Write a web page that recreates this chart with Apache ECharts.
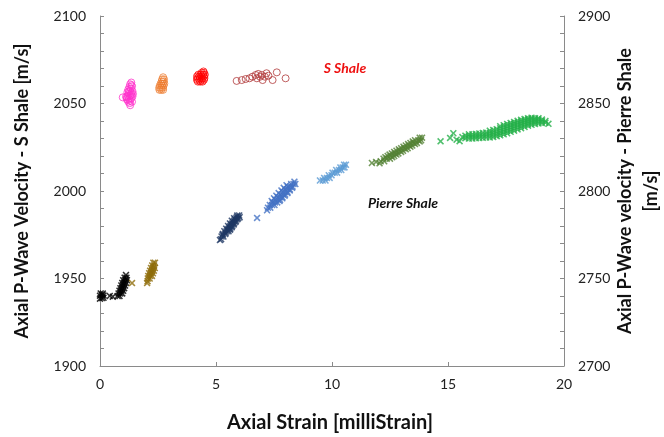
<!DOCTYPE html>
<html><head><meta charset="utf-8">
<script src="https://cdn.jsdelivr.net/npm/echarts@6/dist/echarts.min.js"></script>
<style>html,body{margin:0;padding:0;background:#fff}#c{width:664px;height:437px}</style>
</head><body><div id="c"></div><script>
// ---- Axis ranges / ticks ----
const xTicks = [0, 5, 10, 15, 20];
const leftTicks = [1900, 1950, 2000, 2050, 2100];
const rightTicks = [2700, 2750, 2800, 2850, 2900];

// ---- S Shale (left axis), [strain, velocity] ----
const sShaleMagenta = [[0.98,2053.5],[1.30,2049.0],[1.22,2051.0],[1.30,2051.5],[1.38,2051.0],[1.15,2052.5],[1.26,2052.8],[1.35,2053.0],[1.12,2054.0],[1.20,2054.2],[1.30,2054.5],[1.40,2054.0],[1.25,2055.5],[1.35,2056.0],[1.18,2056.5],[1.30,2057.2],[1.40,2057.0],[1.22,2058.0],[1.33,2058.5],[1.27,2059.5],[1.38,2059.8],[1.30,2061.0],[1.35,2062.0],[1.42,2055.5],[1.15,2053.5],[1.28,2050.2],[1.36,2060.5],[1.24,2056.8],[1.34,2055.0],[1.20,2052.0]];
const sShaleOrange = [[2.56,2057.8],[2.64,2057.8],[2.72,2057.8],[2.55,2059.0],[2.63,2059.0],[2.71,2059.0],[2.58,2060.2],[2.66,2060.2],[2.74,2060.2],[2.62,2061.4],[2.70,2061.4],[2.77,2061.4],[2.66,2062.6],[2.74,2062.6],[2.68,2063.8],[2.76,2063.8],[2.72,2065.0]];
const sShaleRed = [[4.22,2062.5],[4.32,2062.5],[4.42,2062.5],[4.18,2063.5],[4.28,2063.5],[4.38,2063.5],[4.48,2063.5],[4.20,2064.5],[4.30,2064.5],[4.40,2064.5],[4.50,2064.5],[4.18,2065.5],[4.28,2065.5],[4.38,2065.5],[4.48,2065.5],[4.24,2066.5],[4.34,2066.5],[4.44,2066.5],[4.52,2066.5],[4.38,2067.5],[4.48,2067.5],[4.46,2068.3]];
const sShaleDarkRed = [[5.89,2062.9],[6.11,2063.4],[6.28,2064.0],[6.44,2064.4],[6.57,2065.3],[6.71,2066.3],[6.82,2066.9],[6.97,2066.3],[7.01,2063.4],[7.11,2065.3],[7.26,2065.9],[7.44,2063.4],[7.62,2067.8],[8.00,2064.4],[6.76,2064.4],[6.90,2065.3],[7.18,2067.3]];

// ---- Pierre Shale (right axis), [strain, velocity] ----
const pShaleBlack = [[0.00,2738.5],[0.08,2738.8],[0.15,2739.0],[0.00,2740.2],[0.08,2740.5],[0.15,2740.3],[0.03,2741.5],[0.12,2741.4],[0.42,2740.0],[0.55,2739.6],
  [0.76,2740.0],[0.84,2740.0],[0.80,2741.5],[0.88,2741.5],[0.96,2741.5],[0.84,2743.0],[0.92,2743.0],[1.00,2743.0],
  [0.88,2744.5],[0.96,2744.5],[1.04,2744.5],[0.92,2746.0],[1.00,2746.0],[1.08,2746.0],[0.96,2747.5],[1.04,2747.5],[1.12,2747.5],
  [1.00,2749.0],[1.08,2749.0],[1.16,2749.0],[1.06,2750.5],[1.14,2750.5],[1.12,2752.0]];
const pShaleBrown = [[1.38,2747.4],[2.03,2747.4],[2.05,2748.5],[2.06,2750.0],[2.14,2750.0],[2.08,2751.5],[2.16,2751.5],[2.24,2751.5],
  [2.12,2753.0],[2.20,2753.0],[2.28,2753.0],[2.16,2754.5],[2.24,2754.5],[2.32,2754.5],[2.20,2756.0],[2.28,2756.0],[2.36,2756.0],
  [2.25,2757.5],[2.33,2757.5],[2.30,2759.0],[2.37,2759.0]];
const pShaleNavy = [[5.17,2772.0],[5.22,2772.5],[5.24,2774.0],[5.32,2774.0],[5.30,2775.5],[5.40,2775.5],[5.36,2777.0],[5.46,2777.0],[5.54,2777.0],
  [5.44,2778.5],[5.54,2778.5],[5.62,2778.5],[5.52,2780.0],[5.62,2780.0],[5.70,2780.0],[5.60,2781.5],[5.70,2781.5],[5.78,2781.5],
  [5.68,2783.0],[5.78,2783.0],[5.86,2783.0],[5.78,2784.5],[5.88,2784.5],[5.96,2784.5],[5.92,2786.0],[6.00,2786.0],
  [5.28,2775.0],[5.42,2776.2],[5.50,2777.8],[5.58,2779.3],[5.66,2780.8],[5.74,2782.3],[5.82,2783.8],[5.90,2785.3],
  [5.60,2777.8],[5.68,2779.3],[5.76,2780.8],[5.84,2782.3],[5.92,2783.8],[6.02,2785.0]];
const pShaleBlue = [[6.77,2784.6],[7.20,2789.0],[7.24,2790.5],[7.34,2790.5],[7.32,2792.0],[7.42,2792.0],[7.52,2792.0],[7.44,2793.5],[7.54,2793.5],[7.64,2793.5],
  [7.56,2795.0],[7.66,2795.0],[7.76,2795.0],[7.66,2796.5],[7.76,2796.5],[7.86,2796.5],[7.78,2798.0],[7.88,2798.0],[7.98,2798.0],
  [7.88,2799.5],[7.98,2799.5],[8.08,2799.5],[7.98,2801.0],[8.08,2801.0],[8.18,2801.0],[8.10,2802.5],[8.20,2802.5],[8.30,2802.5],
  [8.24,2804.0],[8.34,2804.0],[8.42,2804.0],[8.38,2805.3],
  [7.50,2795.8],[7.60,2797.3],[7.70,2798.8],[7.82,2800.3],[7.92,2801.8],[8.04,2803.3],[7.86,2795.8],[7.96,2797.3],[8.08,2798.8],[8.18,2800.3],[8.28,2801.8],[7.40,2794.3],[7.74,2794.3]];
const pShaleLightBlue = [[9.48,2806.0],[9.60,2806.0],[9.72,2806.0],[9.66,2807.5],[9.78,2807.5],[9.90,2807.5],[9.86,2809.0],[9.98,2809.0],
  [10.02,2810.5],[10.12,2810.5],[10.22,2810.5],[10.18,2812.0],[10.30,2812.0],[10.40,2812.0],[10.36,2813.5],[10.46,2813.5],[10.54,2813.5],[10.52,2815.0],[10.60,2815.0]];
const pShaleOlive = [[11.72,2816.0],[11.90,2816.6],[12.05,2815.8],[12.10,2817.0],[12.25,2817.0],[12.22,2818.5],[12.36,2818.5],[12.50,2818.5],
  [12.40,2820.0],[12.54,2820.0],[12.68,2820.0],[12.58,2821.5],[12.72,2821.5],[12.86,2821.5],[12.78,2823.0],[12.92,2823.0],[13.06,2823.0],
  [12.98,2824.5],[13.12,2824.5],[13.26,2824.5],[13.18,2826.0],[13.32,2826.0],[13.46,2826.0],[13.38,2827.5],[13.52,2827.5],[13.66,2827.5],
  [13.58,2829.0],[13.72,2829.0],[13.84,2829.0],[13.78,2830.5],[13.88,2830.5],
  [12.30,2819.3],[12.60,2819.3],[12.48,2820.8],[12.78,2820.8],[12.68,2822.3],[12.98,2822.3],[12.88,2823.8],[13.18,2823.8],
  [13.08,2825.3],[13.38,2825.3],[13.28,2826.8],[13.58,2826.8],[13.48,2828.3],[13.78,2828.3]];
const pShaleGreen = [[14.68,2828.4],[15.09,2830.3],[15.23,2833.0],[15.37,2829.3],[15.50,2828.5],[15.62,2830.8],[19.33,2838.4],
  [15.75,2830.2],[15.75,2831.6],[15.9,2830.0],[15.9,2831.3],[15.9,2832.4],[16.05,2830.0],[16.05,2831.2],[16.05,2832.4],
  [16.2,2830.2],[16.2,2831.4],[16.2,2832.6],[16.35,2830.3],[16.35,2831.6],[16.35,2832.9],[16.5,2830.4],[16.5,2831.8],[16.5,2833.2],
  [16.65,2830.6],[16.65,2832.0],[16.65,2833.4],[16.8,2830.6],[16.8,2831.9],[16.8,2833.2],[16.8,2834.5],
  [16.95,2830.9],[16.95,2832.2],[16.95,2833.5],[16.95,2834.9],[17.1,2831.3],[17.1,2832.6],[17.1,2833.9],[17.1,2835.3],
  [17.25,2831.8],[17.25,2833.1],[17.25,2834.4],[17.25,2835.8],[17.25,2837.0],[17.4,2832.4],[17.4,2833.7],[17.4,2835.0],[17.4,2836.3],[17.4,2837.6],
  [17.55,2833.0],[17.55,2834.4],[17.55,2835.8],[17.55,2837.1],[17.55,2838.3],[17.7,2833.8],[17.7,2835.1],[17.7,2836.4],[17.7,2837.7],[17.7,2838.9],
  [17.85,2834.5],[17.85,2835.8],[17.85,2837.1],[17.85,2838.4],[17.85,2839.5],[18.0,2835.2],[18.0,2836.5],[18.0,2837.8],[18.0,2839.0],[18.0,2840.1],
  [18.15,2835.9],[18.15,2837.2],[18.15,2838.5],[18.15,2839.7],[18.15,2840.7],[18.3,2836.6],[18.3,2837.9],[18.3,2839.1],[18.3,2840.2],[18.3,2841.2],
  [18.45,2837.3],[18.45,2838.5],[18.45,2839.7],[18.45,2840.8],[18.45,2841.6],[18.6,2837.8],[18.6,2839.0],[18.6,2840.1],[18.6,2841.2],[18.6,2841.9],
  [18.75,2838.3],[18.75,2839.5],[18.75,2840.6],[18.75,2841.6],[18.9,2838.6],[18.9,2839.8],[18.9,2840.8],[18.9,2841.6],
  [19.05,2838.8],[19.05,2839.9],[19.05,2840.8],[19.2,2839.0],[19.2,2840.0]];

// ---- Texts ----
const xTitle = 'Axial Strain [milliStrain]';
const leftTitle = 'Axial P-Wave Velocity - S Shale [m/s]';
const rightTitle = 'Axial P-Wave velocity - Pierre Shale\n[m/s]';
const sLabel = 'S Shale';
const pLabel = 'Pierre Shale';

const FONT = 'Lato, "Open Sans", sans-serif';
const GRAY = '#8a8a8a';
const XSYM = 'path://M0,1.6L1.6,0L5,3.4L8.4,0L10,1.6L6.6,5L10,8.4L8.4,10L5,6.6L1.6,10L0,8.4L3.4,5Z';

function sSeries(name, data, color) {
  return { name, type: 'scatter', yAxisIndex: 0, data, symbol: 'circle', symbolSize: 7,
    itemStyle: { color: 'rgba(255,255,255,0)', borderColor: color, borderWidth: 1 } };
}
function pSeries(name, data, color) {
  return { name, type: 'scatter', yAxisIndex: 1, data, symbol: XSYM, symbolSize: 7,
    itemStyle: { color: color } };
}

const chart = echarts.init(document.getElementById('c'));
const yCommon = {
  type: 'value', interval: 10,
  axisLine: { show: true, lineStyle: { color: GRAY, width: 1 } },
  axisTick: { show: true, inside: true, length: 4, lineStyle: { color: GRAY } },
  splitLine: { show: false },
  axisLabel: { color: '#222', fontFamily: FONT, fontSize: 14, margin: 14,
    formatter: v => (v % 50 === 0 ? String(v) : '') }
};
chart.setOption({
  animation: false,
  grid: { left: 100, right: 100, top: 16, bottom: 71 },
  xAxis: {
    type: 'value', min: xTicks[0], max: xTicks[xTicks.length - 1], interval: xTicks[1] - xTicks[0],
    axisLine: { show: true, onZero: false, lineStyle: { color: GRAY, width: 1 } },
    axisTick: { show: true, inside: true, length: 4, lineStyle: { color: GRAY } },
    splitLine: { show: false },
    axisLabel: { color: '#222', fontFamily: FONT, fontSize: 14, margin: 11 }
  },
  yAxis: [
    Object.assign({}, yCommon, { position: 'left', min: leftTicks[0], max: leftTicks[leftTicks.length - 1] }),
    Object.assign({}, yCommon, { position: 'right', min: rightTicks[0], max: rightTicks[rightTicks.length - 1] })
  ],
  graphic: [
    { type: 'text', x: 330, y: 423, style: { text: xTitle, font: 'bold 20px ' + FONT, fill: '#111', textAlign: 'center', textVerticalAlign: 'middle' } },
    { type: 'text', x: 22, y: 191, rotation: Math.PI / 2, style: { text: leftTitle, font: 'bold 18px ' + FONT, fill: '#111', textAlign: 'center', textVerticalAlign: 'middle' } },
    { type: 'text', x: 638, y: 191, rotation: Math.PI / 2, style: { text: rightTitle, font: 'bold 18px ' + FONT, fill: '#111', textAlign: 'center', textVerticalAlign: 'middle', lineHeight: 26 } },
    { type: 'text', x: 345, y: 68, style: { text: sLabel, font: 'italic bold 14px ' + FONT, fill: '#ee1111', textAlign: 'center', textVerticalAlign: 'middle' } },
    { type: 'text', x: 403, y: 203, style: { text: pLabel, font: 'italic bold 14px ' + FONT, fill: '#111', textAlign: 'center', textVerticalAlign: 'middle' } }
  ],
  series: [
    sSeries('S Shale 1', sShaleMagenta, '#ff33cc'),
    sSeries('S Shale 2', sShaleOrange, '#ed7d31'),
    sSeries('S Shale 3', sShaleRed, '#ff0000'),
    sSeries('S Shale 4', sShaleDarkRed, '#b0383a'),
    pSeries('Pierre 1', pShaleBlack, '#000000'),
    pSeries('Pierre 2', pShaleBrown, '#8f6d0a'),
    pSeries('Pierre 3', pShaleNavy, '#1f3864'),
    pSeries('Pierre 4', pShaleBlue, '#4472c4'),
    pSeries('Pierre 5', pShaleLightBlue, '#5b9bd5'),
    pSeries('Pierre 6', pShaleOlive, '#548235'),
    pSeries('Pierre 7', pShaleGreen, '#25b04a')
  ]
});
</script></body></html>
